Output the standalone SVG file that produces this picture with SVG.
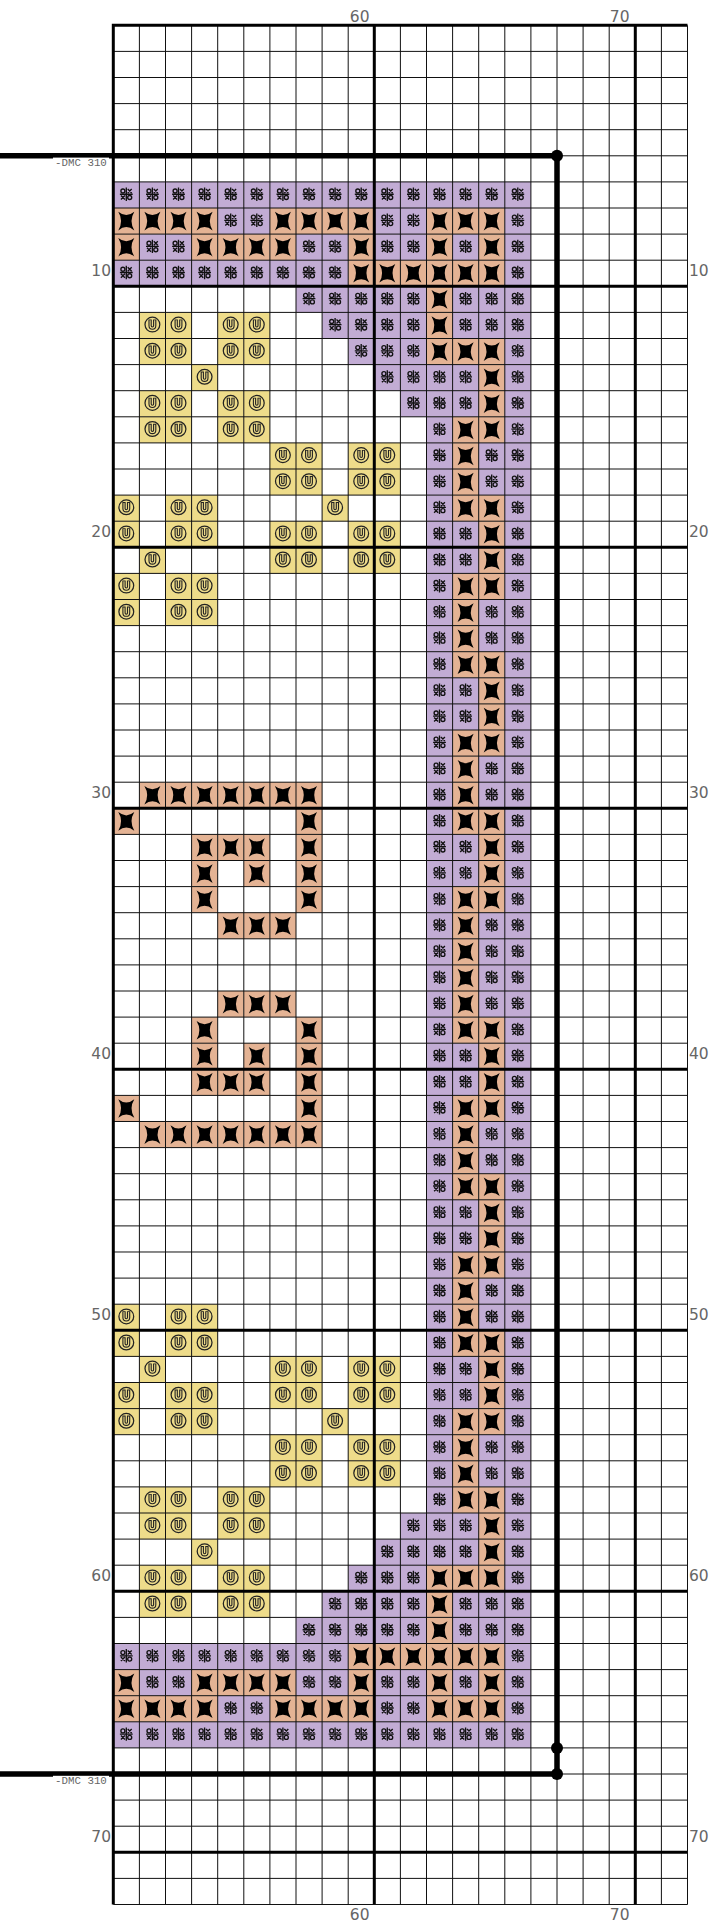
<svg xmlns="http://www.w3.org/2000/svg" xmlns:xlink="http://www.w3.org/1999/xlink" width="712" height="1921" viewBox="0 0 712 1921">
<style>
.lbl{font-family:"DejaVu Sans",sans-serif;font-size:15.5px;fill:#666}
.lr{text-anchor:end}
.dmc{font-family:"Liberation Mono",monospace;font-size:10.8px;fill:#666}
.thin{stroke:#111;stroke-width:1;fill:none}
.thick{stroke:#000;stroke-width:3;fill:none}
.sym{stroke:#111;stroke-width:1.35;fill:none}
.bs{stroke:#000;stroke-width:5.5;fill:none}
</style>
<defs>
<g id="P"><rect width="26.1" height="26.1" fill="#c2acd4"/><path class="sym" d="M13 5.6V19M6.6 12.3H19.4M14.4 7.1L18.4 11.1M18.4 7.1L14.4 11.1M7.6 13.6L11.6 17.6M11.6 13.6L7.6 17.6"/><circle class="sym" cx="9.6" cy="9.1" r="2"/><circle class="sym" cx="16.4" cy="15.6" r="2"/></g>
<g id="X"><rect width="26.1" height="26.1" fill="#e4b394"/><path fill="#000" d="M5 3.8Q13 10.4 21 3.8Q15.4 13 21 22.4Q13 15.8 5 22.4Q10.6 13 5 3.8Z"/></g>
<g id="U"><rect width="26.1" height="26.1" fill="#eedc8a"/><circle cx="13" cy="12.2" r="7.4" fill="none" stroke="#222" stroke-width="1.25"/><path d="M10.7 7V13.4A2.3 2.3 0 0 0 15.3 13.4V7" fill="none" stroke="#222" stroke-width="3.3"/><path d="M10.7 7.9V13.4A2.3 2.3 0 0 0 15.3 13.4V7.9" fill="none" stroke="#eedc8a" stroke-width="1.1"/></g>
<g id="bA"><use href="#P" x="313.2"/><use href="#X" x="339.3"/><use href="#X" x="365.4"/><use href="#P" x="391.5"/></g>
<g id="bB"><use href="#P" x="313.2"/><use href="#X" x="339.3"/><use href="#P" x="365.4"/><use href="#P" x="391.5"/></g>
<g id="bC"><use href="#P" x="313.2"/><use href="#P" x="339.3"/><use href="#X" x="365.4"/><use href="#P" x="391.5"/></g>
<g id="r7"><use href="#P" x="0"/><use href="#P" x="26.1"/><use href="#P" x="52.2"/><use href="#P" x="78.3"/><use href="#P" x="104.4"/><use href="#P" x="130.5"/><use href="#P" x="156.6"/><use href="#P" x="182.7"/><use href="#P" x="208.8"/><use href="#P" x="234.9"/><use href="#P" x="261"/><use href="#P" x="287.1"/><use href="#P" x="313.2"/><use href="#P" x="339.3"/><use href="#P" x="365.4"/><use href="#P" x="391.5"/></g>
<g id="r8"><use href="#X" x="0"/><use href="#X" x="26.1"/><use href="#X" x="52.2"/><use href="#X" x="78.3"/><use href="#P" x="104.4"/><use href="#P" x="130.5"/><use href="#X" x="156.6"/><use href="#X" x="182.7"/><use href="#X" x="208.8"/><use href="#X" x="234.9"/><use href="#P" x="261"/><use href="#P" x="287.1"/><use href="#X" x="313.2"/><use href="#X" x="339.3"/><use href="#X" x="365.4"/><use href="#P" x="391.5"/></g>
<g id="r9"><use href="#X" x="0"/><use href="#P" x="26.1"/><use href="#P" x="52.2"/><use href="#X" x="78.3"/><use href="#X" x="104.4"/><use href="#X" x="130.5"/><use href="#X" x="156.6"/><use href="#P" x="182.7"/><use href="#P" x="208.8"/><use href="#X" x="234.9"/><use href="#P" x="261"/><use href="#P" x="287.1"/><use href="#X" x="313.2"/><use href="#P" x="339.3"/><use href="#X" x="365.4"/><use href="#P" x="391.5"/></g>
<g id="r10"><use href="#P" x="0"/><use href="#P" x="26.1"/><use href="#P" x="52.2"/><use href="#P" x="78.3"/><use href="#P" x="104.4"/><use href="#P" x="130.5"/><use href="#P" x="156.6"/><use href="#P" x="182.7"/><use href="#P" x="208.8"/><use href="#X" x="234.9"/><use href="#X" x="261"/><use href="#X" x="287.1"/><use href="#X" x="313.2"/><use href="#X" x="339.3"/><use href="#X" x="365.4"/><use href="#P" x="391.5"/></g>
<g id="r11"><use href="#P" x="182.7"/><use href="#P" x="208.8"/><use href="#P" x="234.9"/><use href="#P" x="261"/><use href="#P" x="287.1"/><use href="#X" x="313.2"/><use href="#P" x="339.3"/><use href="#P" x="365.4"/><use href="#P" x="391.5"/></g>
<g id="r12"><use href="#U" x="26.1"/><use href="#U" x="52.2"/><use href="#U" x="104.4"/><use href="#U" x="130.5"/><use href="#P" x="208.8"/><use href="#P" x="234.9"/><use href="#P" x="261"/><use href="#P" x="287.1"/><use href="#X" x="313.2"/><use href="#P" x="339.3"/><use href="#P" x="365.4"/><use href="#P" x="391.5"/></g>
<g id="r13"><use href="#U" x="26.1"/><use href="#U" x="52.2"/><use href="#U" x="104.4"/><use href="#U" x="130.5"/><use href="#P" x="234.9"/><use href="#P" x="261"/><use href="#P" x="287.1"/><use href="#X" x="313.2"/><use href="#X" x="339.3"/><use href="#X" x="365.4"/><use href="#P" x="391.5"/></g>
<g id="r14"><use href="#U" x="78.3"/><use href="#P" x="261"/><use href="#P" x="287.1"/><use href="#P" x="313.2"/><use href="#P" x="339.3"/><use href="#X" x="365.4"/><use href="#P" x="391.5"/></g>
<g id="r15"><use href="#U" x="26.1"/><use href="#U" x="52.2"/><use href="#U" x="104.4"/><use href="#U" x="130.5"/><use href="#P" x="287.1"/><use href="#P" x="313.2"/><use href="#P" x="339.3"/><use href="#X" x="365.4"/><use href="#P" x="391.5"/></g>
<g id="r16"><use href="#U" x="26.1"/><use href="#U" x="52.2"/><use href="#U" x="104.4"/><use href="#U" x="130.5"/><use href="#bA"/></g>
<g id="r17"><use href="#U" x="156.6"/><use href="#U" x="182.7"/><use href="#U" x="234.9"/><use href="#U" x="261"/><use href="#bB"/></g>
<g id="r19"><use href="#U" x="0"/><use href="#U" x="52.2"/><use href="#U" x="78.3"/><use href="#U" x="208.8"/><use href="#bA"/></g>
<g id="r20"><use href="#U" x="0"/><use href="#U" x="52.2"/><use href="#U" x="78.3"/><use href="#U" x="156.6"/><use href="#U" x="182.7"/><use href="#U" x="234.9"/><use href="#U" x="261"/><use href="#bC"/></g>
<g id="r21"><use href="#U" x="26.1"/><use href="#U" x="156.6"/><use href="#U" x="182.7"/><use href="#U" x="234.9"/><use href="#U" x="261"/><use href="#bC"/></g>
<g id="r22"><use href="#U" x="0"/><use href="#U" x="52.2"/><use href="#U" x="78.3"/><use href="#bA"/></g>
<g id="r23"><use href="#U" x="0"/><use href="#U" x="52.2"/><use href="#U" x="78.3"/><use href="#bB"/></g>
<g id="r30"><use href="#X" x="26.1"/><use href="#X" x="52.2"/><use href="#X" x="78.3"/><use href="#X" x="104.4"/><use href="#X" x="130.5"/><use href="#X" x="156.6"/><use href="#X" x="182.7"/><use href="#bB"/></g>
<g id="r31"><use href="#X" x="0"/><use href="#X" x="182.7"/><use href="#bA"/></g>
<g id="r32"><use href="#X" x="78.3"/><use href="#X" x="104.4"/><use href="#X" x="130.5"/><use href="#X" x="182.7"/><use href="#bC"/></g>
<g id="r33"><use href="#X" x="78.3"/><use href="#X" x="130.5"/><use href="#X" x="182.7"/><use href="#bC"/></g>
<g id="r34"><use href="#X" x="78.3"/><use href="#X" x="182.7"/><use href="#bA"/></g>
<g id="r35"><use href="#X" x="104.4"/><use href="#X" x="130.5"/><use href="#X" x="156.6"/><use href="#bB"/></g>
</defs>
<rect width="712" height="1921" fill="#fff"/>
<g id="chart" transform="translate(113.3 25.3)">
<g id="stitches">
<use href="#r7" y="156.6"/><use href="#r7" y="1696.5"/>
<use href="#r8" y="182.7"/><use href="#r8" y="1670.4"/>
<use href="#r9" y="208.8"/><use href="#r9" y="1644.3"/>
<use href="#r10" y="234.9"/><use href="#r10" y="1618.2"/>
<use href="#r11" y="261"/><use href="#r11" y="1592.1"/>
<use href="#r12" y="287.1"/><use href="#r12" y="1566"/>
<use href="#r13" y="313.2"/><use href="#r13" y="1539.9"/>
<use href="#r14" y="339.3"/><use href="#r14" y="1513.8"/>
<use href="#r15" y="365.4"/><use href="#r15" y="1487.7"/>
<use href="#r16" y="391.5"/><use href="#r16" y="1461.6"/>
<use href="#r17" y="417.6"/><use href="#r17" y="1435.5"/>
<use href="#r17" y="443.7"/><use href="#r17" y="1409.4"/>
<use href="#r19" y="469.8"/><use href="#r19" y="1383.3"/>
<use href="#r20" y="495.9"/><use href="#r20" y="1357.2"/>
<use href="#r21" y="522"/><use href="#r21" y="1331.1"/>
<use href="#r22" y="548.1"/><use href="#r22" y="1305"/>
<use href="#r23" y="574.2"/><use href="#r23" y="1278.9"/>
<use href="#bB" y="600.3"/><use href="#bB" y="1252.8"/>
<use href="#bA" y="626.4"/><use href="#bA" y="1226.7"/>
<use href="#bC" y="652.5"/><use href="#bC" y="1200.6"/>
<use href="#bC" y="678.6"/><use href="#bC" y="1174.5"/>
<use href="#bA" y="704.7"/><use href="#bA" y="1148.4"/>
<use href="#bB" y="730.8"/><use href="#bB" y="1122.3"/>
<use href="#r30" y="756.9"/><use href="#r30" y="1096.2"/>
<use href="#r31" y="783"/><use href="#r31" y="1070.1"/>
<use href="#r32" y="809.1"/><use href="#r32" y="1044"/>
<use href="#r33" y="835.2"/><use href="#r33" y="1017.9"/>
<use href="#r34" y="861.3"/><use href="#r34" y="991.8"/>
<use href="#r35" y="887.4"/><use href="#r35" y="965.7"/>
<use href="#bB" y="913.5"/><use href="#bB" y="939.6"/>
</g>
<g id="grid">
<path class="thin" d="M26.1 0V1879.2M52.2 0V1879.2M78.3 0V1879.2M104.4 0V1879.2M130.5 0V1879.2M156.6 0V1879.2M182.7 0V1879.2M208.8 0V1879.2M234.9 0V1879.2M287.1 0V1879.2M313.2 0V1879.2M339.3 0V1879.2M365.4 0V1879.2M391.5 0V1879.2M417.6 0V1879.2M443.7 0V1879.2M469.8 0V1879.2M495.9 0V1879.2M548.1 0V1879.2"/>
<path class="thin" d="M0 26.1H574.2M0 52.2H574.2M0 78.3H574.2M0 104.4H574.2M0 130.5H574.2M0 156.6H574.2M0 182.7H574.2M0 208.8H574.2M0 234.9H574.2M0 287.1H574.2M0 313.2H574.2M0 339.3H574.2M0 365.4H574.2M0 391.5H574.2M0 417.6H574.2M0 443.7H574.2M0 469.8H574.2M0 495.9H574.2M0 548.1H574.2M0 574.2H574.2M0 600.3H574.2M0 626.4H574.2M0 652.5H574.2M0 678.6H574.2M0 704.7H574.2M0 730.8H574.2M0 756.9H574.2M0 809.1H574.2M0 835.2H574.2M0 861.3H574.2M0 887.4H574.2M0 913.5H574.2M0 939.6H574.2M0 965.7H574.2M0 991.8H574.2M0 1017.9H574.2M0 1070.1H574.2M0 1096.2H574.2M0 1122.3H574.2M0 1148.4H574.2M0 1174.5H574.2M0 1200.6H574.2M0 1226.7H574.2M0 1252.8H574.2M0 1278.9H574.2M0 1331.1H574.2M0 1357.2H574.2M0 1383.3H574.2M0 1409.4H574.2M0 1435.5H574.2M0 1461.6H574.2M0 1487.7H574.2M0 1513.8H574.2M0 1539.9H574.2M0 1592.1H574.2M0 1618.2H574.2M0 1644.3H574.2M0 1670.4H574.2M0 1696.5H574.2M0 1722.6H574.2M0 1748.7H574.2M0 1774.8H574.2M0 1800.9H574.2M0 1853.1H574.2"/>
<path class="thick" d="M261 0V1879.2M522 0V1879.2M0 261H574.2M0 522H574.2M0 783H574.2M0 1044H574.2M0 1305H574.2M0 1566H574.2M0 1827H574.2"/>
<path class="thick" d="M0 1879.2V0H574.2"/>
<path class="thin" stroke-width="1.7" d="M574.2 0V1879.2H0"/>
</g>
</g>
<g id="backstitch">
<path class="bs" d="M0 155.8H557V1774H0"/>
<circle cx="557" cy="155.8" r="6"/>
<circle cx="557" cy="1747.9" r="6"/>
<circle cx="557" cy="1774" r="6"/>
<rect x="53" y="157.6" width="56" height="10.6" fill="#fff"/>
<text class="dmc" x="55" y="166">-DMC 310</text>
<rect x="53" y="1775.8" width="56" height="10.6" fill="#fff"/>
<text class="dmc" x="55" y="1784">-DMC 310</text>
</g>
<g id="labels">
<text class="lbl lr" x="369.5" y="21.7">60</text>
<text class="lbl lr" x="629.5" y="21.7">70</text>
<text class="lbl lr" x="369.5" y="1919.5">60</text>
<text class="lbl lr" x="629.5" y="1919.5">70</text>
<text class="lbl lr" x="111" y="276.3">10</text>
<text class="lbl lr" x="111" y="537.3">20</text>
<text class="lbl lr" x="111" y="798.3">30</text>
<text class="lbl lr" x="111" y="1059.3">40</text>
<text class="lbl lr" x="111" y="1320.3">50</text>
<text class="lbl lr" x="111" y="1581.3">60</text>
<text class="lbl lr" x="111" y="1842.3">70</text>
<text class="lbl" x="689" y="276.3">10</text>
<text class="lbl" x="689" y="537.3">20</text>
<text class="lbl" x="689" y="798.3">30</text>
<text class="lbl" x="689" y="1059.3">40</text>
<text class="lbl" x="689" y="1320.3">50</text>
<text class="lbl" x="689" y="1581.3">60</text>
<text class="lbl" x="689" y="1842.3">70</text>
</g>
</svg>
